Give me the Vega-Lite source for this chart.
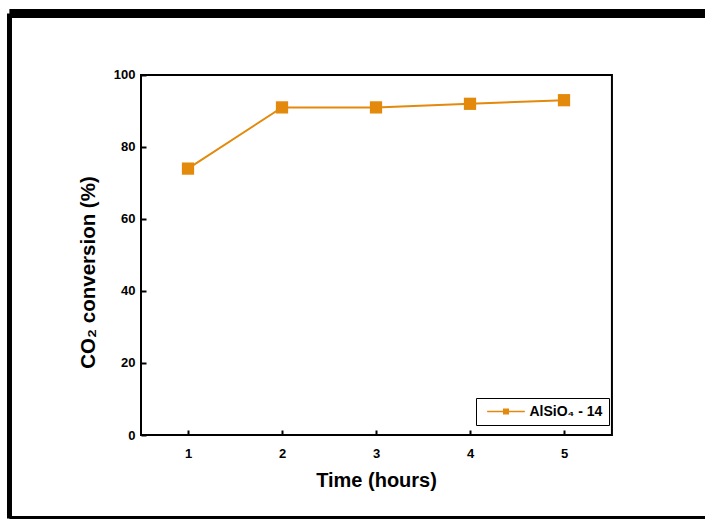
{
  "$schema": "https://vega.github.io/schema/vega-lite/v6.json",
  "width": 705,
  "height": 520,
  "autosize": "none",
  "padding": 0,
  "background": "white",
  "config": {
    "view": {"stroke": null},
    "font": "Liberation Sans",
    "axis": {"grid": false}
  },
  "layer": [
    {
      "data": {"values": [{"edge": "top"}]},
      "mark": {"type": "rule", "color": "black", "strokeWidth": 9},
      "encoding": {
        "x": {
          "datum": -0.9,
          "type": "quantitative",
          "scale": {"domain": [-1, 6.5], "nice": false, "zero": false},
          "axis": {
            "orient": "bottom",
            "offset": -85,
            "domain": false,
            "values": [1, 2, 3, 4, 5],
            "format": "d",
            "tickSize": -5,
            "tickWidth": 2,
            "tickColor": "black",
            "labelPadding": 17,
            "labelFont": "Liberation Sans",
            "labelFontWeight": "bold",
            "labelFontSize": 13,
            "labelColor": "black",
            "title": "Time (hours)",
            "titleFont": "Liberation Sans",
            "titleFontSize": 20,
            "titleFontWeight": "bold",
            "titleColor": "black",
            "titleX": 376,
            "titlePadding": 10
          }
        },
        "x2": {"datum": 6.5},
        "y": {
          "datum": 117.08,
          "type": "quantitative",
          "scale": {"domain": [-23.611, 120.833], "nice": false, "zero": false},
          "axis": {
            "orient": "left",
            "offset": -141,
            "domain": false,
            "values": [0, 20, 40, 60, 80, 100],
            "format": "d",
            "tickSize": -5,
            "tickWidth": 2,
            "tickColor": "black",
            "labelPadding": 11,
            "labelFont": "Liberation Sans",
            "labelFontWeight": "bold",
            "labelFontSize": 13,
            "labelColor": "black",
            "title": "CO₂ conversion (%)",
            "titleFont": "Liberation Sans",
            "titleFontSize": 20.5,
            "titleFontWeight": "bold",
            "titleColor": "black",
            "titleY": 272,
            "titlePadding": 15
          }
        }
      }
    },
    {
      "data": {"values": [{"edge": "left"}]},
      "mark": {"type": "rule", "color": "black", "strokeWidth": 5},
      "encoding": {
        "x": {"datum": -0.899, "type": "quantitative"},
        "y": {"datum": 117.08, "type": "quantitative"},
        "y2": {"datum": -23.2}
      }
    },
    {
      "data": {"values": [{"edge": "bottom"}]},
      "mark": {"type": "rule", "color": "black", "strokeWidth": 3},
      "encoding": {
        "x": {"datum": -0.9, "type": "quantitative"},
        "x2": {"datum": 6.5},
        "y": {"datum": -22.92, "type": "quantitative"}
      }
    },
    {
      "data": {"values": [{"edge": "box"}]},
      "mark": {"type": "rect", "fillOpacity": 0, "stroke": "black", "strokeWidth": 2},
      "encoding": {
        "x": {"datum": 0.5, "type": "quantitative"},
        "x2": {"datum": 5.51},
        "y": {"datum": 0, "type": "quantitative"},
        "y2": {"datum": 100}
      }
    },
    {
      "data": {
        "values": [
          {"time": 1, "conversion": 74, "series": "AlSiO₄ - 14"},
          {"time": 2, "conversion": 91, "series": "AlSiO₄ - 14"},
          {"time": 3, "conversion": 91, "series": "AlSiO₄ - 14"},
          {"time": 4, "conversion": 92, "series": "AlSiO₄ - 14"},
          {"time": 5, "conversion": 93, "series": "AlSiO₄ - 14"}
        ]
      },
      "encoding": {
        "x": {"field": "time", "type": "quantitative", "title": "Time (hours)"},
        "y": {"field": "conversion", "type": "quantitative", "title": "CO₂ conversion (%)"}
      },
      "layer": [
        {
          "mark": {"type": "line", "color": "#E3890C", "strokeWidth": 2}
        },
        {
          "mark": {"type": "point", "shape": "square", "filled": true, "size": 150, "opacity": 1},
          "encoding": {
            "color": {
              "field": "series",
              "type": "nominal",
              "scale": {"range": ["#E3890C"]},
              "legend": {
                "title": null,
                "orient": "none",
                "legendX": 476,
                "legendY": 398,
                "strokeColor": "black",
                "fillColor": "white",
                "padding": 6,
                "symbolType": "M-2.9,0H2.9M-0.35,-0.35H0.35V0.35H-0.35Z",
                "symbolSize": 169,
                "symbolOffset": 16.5,
                "symbolStrokeWidth": 1.5,
                "symbolStrokeColor": "#E3890C",
                "symbolFillColor": "#E3890C",
                "symbolOpacity": 1,
                "labelOffset": 16,
                "labelFont": "Liberation Sans",
                "labelFontWeight": "bold",
                "labelFontSize": 14,
                "labelColor": "black"
              }
            }
          }
        }
      ]
    }
  ]
}
